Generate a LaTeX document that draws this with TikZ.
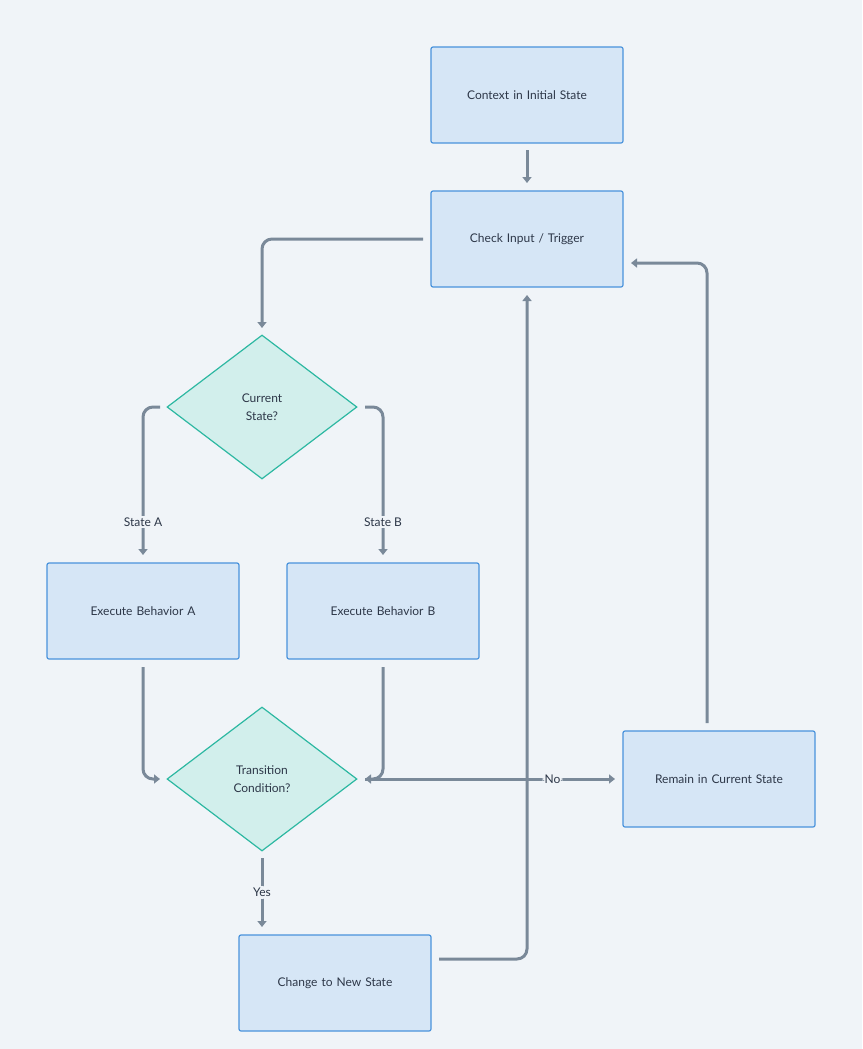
\documentclass[tikz,border=0pt]{standalone}
\usepackage{fontspec}
\setmainfont{Lato}
\usetikzlibrary{shapes.geometric,arrows.meta}
\definecolor{bg}{HTML}{F0F4F8}
\definecolor{boxf}{HTML}{D6E6F6}
\definecolor{boxd}{HTML}{4A93DC}
\definecolor{dmf}{HTML}{D2EFEC}
\definecolor{dmd}{HTML}{2DB8A2}
\definecolor{ln}{HTML}{7A8999}
\definecolor{tx}{HTML}{2D3748}
\begin{document}
\begin{tikzpicture}[x=1pt,y=-1pt,
  box/.style={draw=boxd,fill=boxf,line width=1.2pt,rounded corners=2pt,minimum width=192pt,minimum height=96pt,text width=170pt,align=center,text=tx,font=\fontsize{12}{18}\selectfont},
  dia/.style={draw=dmd,fill=dmf,line width=1.2pt,diamond,minimum width=190pt,minimum height=144pt,text width=80pt,align=center,text=tx,font=\fontsize{12}{18}\selectfont,inner sep=0pt},
  conn/.style={draw=ln,line width=3pt,rounded corners=10pt,-{Triangle[length=6pt,width=9pt]}},
  lab/.style={fill=bg,text=tx,font=\fontsize{12}{14}\selectfont,inner sep=2pt}]
\fill[bg] (0,0) rectangle (862,1049);
\node[box] (ctx) at (527,95) {Context in Initial State};
\node[box] (chk) at (527,239) {Check Input / Trigger};
\node[dia] (cur) at (262,407) {Current\\State?};
\node[box] (ea) at (143,611) {Execute Behavior A};
\node[box] (eb) at (383,611) {Execute Behavior B};
\node[dia] (tr) at (262,779) {Transition\\Condition?};
\node[box] (rem) at (719,779) {Remain in Current State};
\node[box] (chg) at (335,983) {Change to New State};
\coordinate (c1) at (527,150); \coordinate (c2) at (527,183);
\draw[conn] (c1) -- (c2);
\coordinate (a1) at (423,239); \coordinate (a2) at (262,328);
\draw[conn] (a1) -| (a2);
\coordinate (b1) at (160,407); \coordinate (b2) at (143,555);
\draw[conn] (b1) -| (b2);
\coordinate (d1) at (365,407); \coordinate (d2) at (383,555);
\draw[conn] (d1) -| (d2);
\node[lab] at (143,522) {State A};
\node[lab] at (383,522) {State B};
\coordinate (e1) at (143,667); \coordinate (e2) at (160,779);
\draw[conn] (e1) |- (e2);
\coordinate (f1) at (383,667); \coordinate (f2) at (365,779);
\draw[conn] (f1) |- (f2);
\coordinate (g1) at (439,959); \coordinate (g2) at (527,295);
\draw[conn] (g1) -| (g2);
\coordinate (h1) at (365,779); \coordinate (h2) at (615,779);
\draw[conn] (h1) -- node[lab,pos=0.75]{No} (h2);
\coordinate (i1) at (707,723); \coordinate (i2) at (631,263);
\draw[conn] (i1) |- (i2);
\coordinate (j1) at (262,858); \coordinate (j2) at (262,927);
\draw[conn] (j1) -- node[lab]{Yes} (j2);
\end{tikzpicture}
\end{document}
